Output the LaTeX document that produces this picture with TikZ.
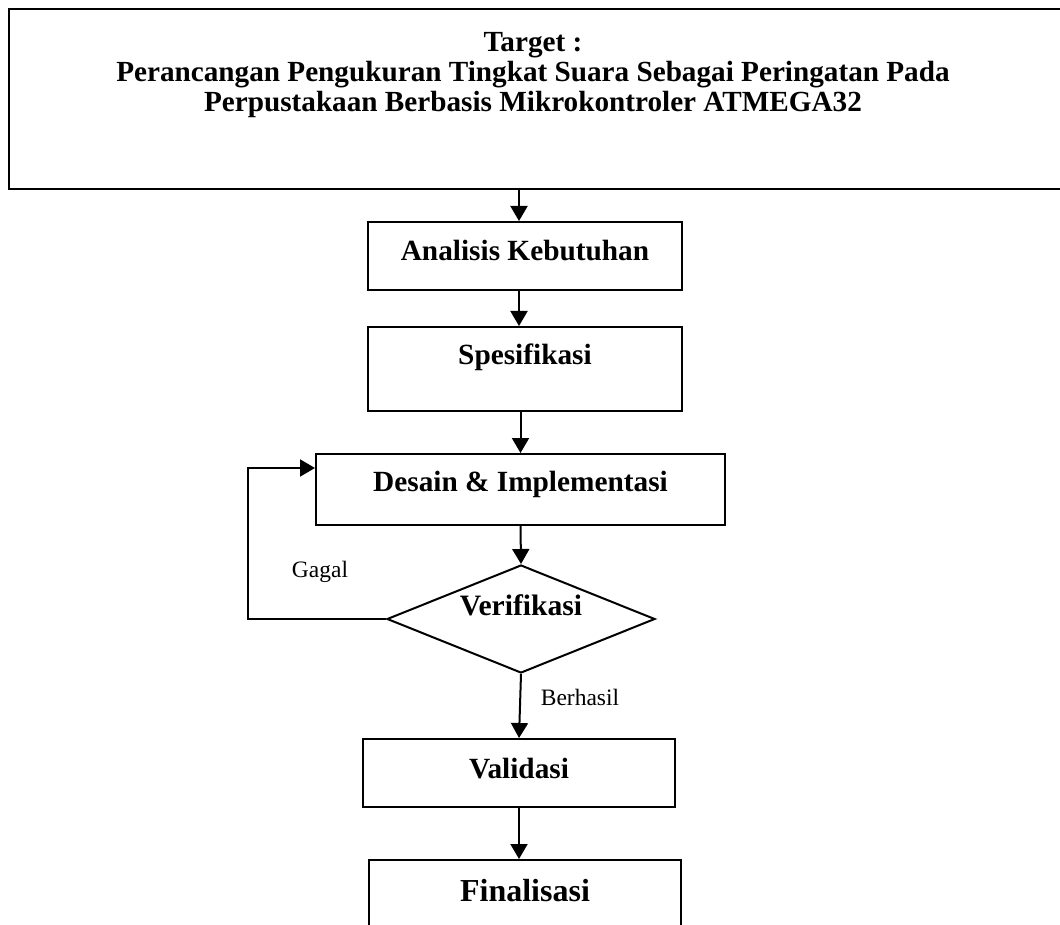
\documentclass[tikz,border=0pt]{standalone}
\usepackage{fontspec}
\setmainfont{Liberation Serif}
\usetikzlibrary{arrows.meta,shapes.geometric}

\begin{document}
\begin{tikzpicture}[x=1pt,y=-1pt,line width=2pt,
    stepbox/.style={draw,inner xsep=0pt,inner ysep=0pt,anchor=north,
      font=\bfseries\fontsize{29.3}{32}\selectfont},
    arr/.style={-{Triangle[length=15pt,width=17pt]}},
    note/.style={font=\fontsize{23.5}{26}\selectfont}]
  \useasboundingbox (0,0) rectangle (1060,925);
  \clip (0,0) rectangle (1060,925);

  %%%%  Target
  \node[draw,anchor=north west,minimum width=1080pt,minimum height=180pt] (target) at (8,8) {};
  \node[align=center,font=\bfseries\fontsize{29.2}{30}\selectfont] (title) at (533,75)
    {Target :\\Perancangan Pengukuran Tingkat Suara Sebagai Peringatan Pada\\
     Perpustakaan Berbasis Mikrokontroler ATMEGA32};

  %%%%  Steps
  \node[stepbox,minimum width=314pt,minimum height=68pt,text height=39pt,text depth=29pt]
    (ana) at (525,221) {Analisis Kebutuhan};
  \node[stepbox,minimum width=314pt,minimum height=84pt,text height=37pt,text depth=47pt]
    (spec) at (525,326) {Spesifikasi};
  \node[stepbox,minimum width=409pt,minimum height=71pt,text height=37pt,text depth=34pt]
    (des) at (520.5,453) {Desain \& Implementasi};
  \node[draw,diamond,inner sep=0pt,aspect=2.5,minimum width=268pt,minimum height=108pt,
    text height=20pt,text depth=28pt,font=\bfseries\fontsize{29.6}{32}\selectfont]
    (veri) at (521,619) {Verifikasi};
  \node[stepbox,minimum width=312pt,minimum height=68pt,text height=39pt,text depth=29pt]
    (val) at (519,738) {Validasi};
  \node[stepbox,minimum width=312pt,minimum height=120pt,text height=41pt,text depth=79pt,
    font=\bfseries\fontsize{32}{34}\selectfont]
    (fin) at (525,859) {Finalisasi};

  \coordinate (back) at (248,468);
  \coordinate (in1) at ([xshift=-6pt]ana.north);
  \coordinate (in2) at ([xshift=-6pt]spec.north);

  %%%%  Arrows
  \draw[arr] (target.south -| in1) -- (in1);
  \draw[arr] (ana.south -| in2) -- (in2);
  \draw[arr] (des.north |- spec.south) -- (des.north);
  \draw[arr] (des.south) -- (veri.north);
  \draw[arr] (veri.south) -- (val.north);
  \draw[arr] (val.south) -- (val.south |- fin.north);
  \draw[arr] (veri.west) -| (back) -- (back -| des.west);

  \node[note] (gagal) at (320,572) {Gagal};
  \node[note] (berhasil) at (580,697) {Berhasil};
\end{tikzpicture}
\end{document}
